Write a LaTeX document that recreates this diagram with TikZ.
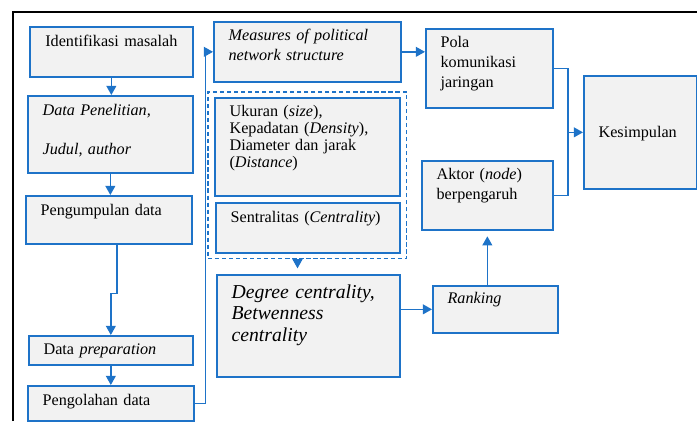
\documentclass[tikz,border=0pt]{standalone}
\usepackage{fontspec}
\setmainfont{Liberation Serif}
\usepackage{tikz}
\usetikzlibrary{arrows.meta, positioning, calc, fit}
\definecolor{cLine}{RGB}{30,115,200}
\definecolor{cFill}{RGB}{242,242,242}
\tikzset{
	box/.style n args={3}{rectangle, draw=cLine, fill=cFill, line width=1.2pt, anchor=north west, align=left, inner xsep=10.5pt, inner ysep=0pt,
		/utils/exec={\pgfmathsetlengthmacro\boxw{#1*0.025cm-21pt}\pgfmathsetlengthmacro\boxh{#3*0.025cm}\pgfmathsetlengthmacro\boxd{(#2-#3)*0.025cm}},
		text width=\boxw, text height=\boxh, text depth=\boxd},
	grpbox/.style={rectangle, draw=cLine, line width=1pt, dash pattern=on 3pt off 2pt, inner xsep=4.3pt, inner ysep=3.6pt},
	arr/.style={-{Triangle[length=6.5pt,width=7pt]}, draw=cLine, line width=1pt},
	lnk/.style={draw=cLine, line width=1pt},
	frm/.style={draw=black, line width=1.4pt},
}
\begin{document}
\begin{tikzpicture}[x=0.025cm, y=-0.025cm, every node/.style={font=\rmfamily\fontsize{11.5}{14}\selectfont}]
	\useasboundingbox (0,0) rectangle (697,421);
	\draw[frm] (13,421) -- (13,12) -- (697,12);
	% left column
	\node[box={163}{50}{20}, align=center] (ident) at (29,26) {Identifikasi masalah};
	\node[box={165}{77}{20}] (datap) at (27,95) {\textit{Data Penelitian,}\\[13.5pt]\textit{Judul, author}};
	\node[box={166}{48}{20}] (kumpul) at (25,195) {Pengumpulan data};
	\node[box={164}{29}{19}] (prep) at (28,335) {Data \textit{preparation}};
	\node[box={166}{35}{20}] (olah) at (27,385) {Pengolahan data};
	% middle column
	\node[box={187}{60}{19}] (measures) at (213,21) {\textit{Measures of political}\\\textit{network structure}};
	\node[box={185}{98}{19}, font=\rmfamily\fontsize{11.5}{12}\selectfont] (ukuran) at (214,97) {Ukuran (\textit{size}),\\Kepadatan (\textit{Density}),\\Diameter dan jarak\\(\textit{Distance})};
	\node[box={184}{50}{20}] (sentral) at (215,202) {Sentralitas (\textit{Centrality})};
	\node[grpbox, fit=(ukuran)(sentral)] (grp) {};
	\node[box={183}{102}{24}, font=\rmfamily\fontsize{14}{15}\selectfont\itshape] (degree) at (216,274) {Degree centrality,\\Betwenness\\centrality};
	% right column
	\node[box={125}{47}{18}] (ranking) at (432,285) {\textit{Ranking}};
	\node[box={131}{69}{19}] (aktor) at (421,160) {Aktor (\textit{node})\\berpengaruh};
	\node[box={127}{79}{19}] (pola) at (425,28) {Pola\\komunikasi\\jaringan};
	\node[box={113}{113}{62}] (kesim) at (583,75) {Kesimpulan};
	% connectors
	\draw[arr] (ident.south) -- (ident.south |- datap.north);
	\draw[arr] (datap.south) -- (datap.south |- kumpul.north);
	\draw[arr] ([xshift=5.7pt]kumpul.south) -- ++(0,49) -| (prep.north);
	\draw[arr] (prep.south) -- (prep.south |- olah.north);
	\draw[arr] (olah.east) -- ++(11,0) |- (measures.west);
	\draw[arr] (measures.east) -- (measures.east -| pola.west);
	\draw[arr, shorten >=4pt] ([xshift=-7pt]grp.south) -- ([xshift=-7pt]grp.south |- degree.north);
	\draw[arr] (degree.east |- ranking.west) -- (ranking.west);
	\draw[arr, shorten >=4pt] (ranking.north -| aktor.south) -- (aktor.south);
	\coordinate (mrg) at ([xshift=-10.7pt]kesim.west);
	\draw[lnk] (pola.east) -| (mrg);
	\draw[lnk] (aktor.east) -| (mrg);
	\draw[arr] (mrg) -- (kesim.west);
\end{tikzpicture}
\end{document}
